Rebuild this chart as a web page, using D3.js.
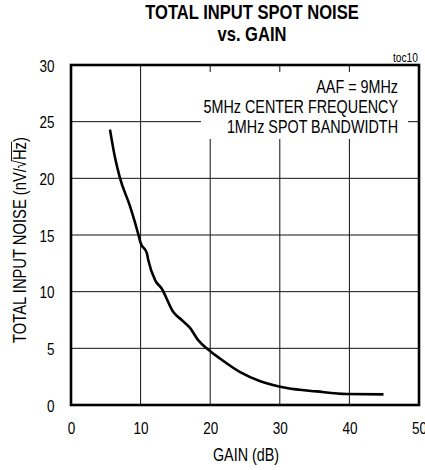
<!DOCTYPE html>
<html><head><meta charset="utf-8">
<script src="https://cdn.jsdelivr.net/npm/d3@7"></script>
<style>html,body{margin:0;padding:0;background:#fff;}svg{display:block;}</style>
</head><body>
<script>
// ---- data ----
const gain  = [5.6, 6.3, 7.0, 8.5, 9.7, 10.0, 10.9, 11.1, 12.1, 13.0, 14.7, 15.9, 17.1, 18.3, 19.7, 21.4, 24.3, 27.2, 31.0, 35.3, 39.6, 44.9];
const noise = [24.3, 21.9, 20.1, 17.5, 15.0, 14.3, 13.4, 12.8, 11.0, 10.3, 8.2, 7.5, 6.8, 5.7, 4.9, 4.1, 2.9, 2.1, 1.5, 1.2, 0.97, 0.94];
const xTicks = [0, 10, 20, 30, 40, 50];
const yTicks = [0, 5, 10, 15, 20, 25, 30];
const titleLines = ["TOTAL INPUT SPOT NOISE", "vs. GAIN"];
const legendLines = ["AAF = 9MHz", "5MHz CENTER FREQUENCY", "1MHz SPOT BANDWIDTH"];
const xLabel = "GAIN (dB)";
const yLabelMain = "TOTAL INPUT NOISE (nV/";
const yLabelRad = "\u221A";
const yLabelHz = "Hz";
const yLabelEnd = ")";
const tocLabel = "toc10";

const W = 425, H = 470;
const svg = d3.select("body").append("svg").attr("width", W).attr("height", H);

// font detection: narrow face available?
function measure(fam) {
  const t = svg.append("text").attr("font-family", fam).attr("font-size", 20).text("TOTAL INPUT SPOT NOISE");
  const w = t.node().getComputedTextLength(); t.remove(); return w;
}
const wNarrow = measure("'Liberation Sans Narrow', monospace");
const wMono = measure("monospace");
const hasNarrow = Math.abs(wNarrow - wMono) > 1;
const FAM = hasNarrow ? "'Liberation Sans Narrow', 'Arial Narrow', sans-serif" : "'Liberation Sans', Arial, sans-serif";
const SX = hasNarrow ? 1 : 0.82;

const x = d3.scaleLinear().domain([0, 50]).range([71, 419]);
const y = d3.scaleLinear().domain([0, 30]).range([405, 65]);

function label(px, py, str, size, anchor, weight, rot) {
  const g = svg.append("g").attr("transform", `translate(${px},${py})` + (rot ? ` rotate(${rot})` : "") + ` scale(${SX},1)`);
  const t = g.append("text").attr("font-family", FAM).attr("font-size", size)
    .attr("text-anchor", anchor).attr("font-weight", weight || "normal").attr("fill", "#000").text(str);
  return {g, t};
}

// grid
const gridX = xTicks.filter(d => d > 0 && d < 50);
const gridY = yTicks.filter(d => d > 0 && d < 30);
svg.append("g").selectAll("line").data(gridX).join("line")
  .attr("x1", d => x(d)).attr("x2", d => x(d)).attr("y1", y(30)).attr("y2", y(0))
  .attr("stroke", "#111").attr("stroke-width", 1);
svg.append("g").selectAll("line").data(gridY).join("line")
  .attr("x1", x(0)).attr("x2", x(50)).attr("y1", d => y(d)).attr("y2", d => y(d))
  .attr("stroke", "#111").attr("stroke-width", 1);

// legend box (white background behind annotation)
svg.append("rect").attr("x", 201).attr("y", 72).attr("width", 207).attr("height", 67).attr("fill", "#fff");
legendLines.forEach((s, i) => label(398, 92.5 + i * 20.2, s, 17.5, "end"));

// curve
const pts = gain.map((g, i) => [g, noise[i]]);
svg.append("path").datum(pts)
  .attr("d", d3.line().x(d => x(d[0])).y(d => y(d[1])).curve(d3.curveMonotoneX))
  .attr("fill", "none").attr("stroke", "#000").attr("stroke-width", 2.6)
  .attr("stroke-linejoin", "round").attr("stroke-linecap", "butt");

// frame
svg.append("rect").attr("x", x(0)).attr("y", y(30)).attr("width", x(50) - x(0)).attr("height", y(0) - y(30))
  .attr("fill", "none").attr("stroke", "#000").attr("stroke-width", 2.6);

// axes (labels only)
const xAxis = svg.append("g").attr("transform", `translate(0,${y(0)})`)
  .call(d3.axisBottom(x).tickValues(xTicks).tickSize(0).tickPadding(17).tickFormat(d3.format("d")));
xAxis.select(".domain").remove();
xAxis.selectAll("text").attr("font-family", FAM).attr("font-size", 16.5).attr("fill", "#000")
  .attr("transform", `scale(${SX},1)`);

const yPad = 16.5;
const yAxis = svg.append("g").attr("transform", `translate(${x(0)},0)`)
  .call(d3.axisLeft(y).tickValues(yTicks).tickSize(0).tickPadding(yPad).tickFormat(d3.format("d")));
yAxis.select(".domain").remove();
yAxis.selectAll("text").attr("font-family", FAM).attr("font-size", 16.5).attr("fill", "#000")
  .attr("x", -yPad / SX).attr("dy", "0.38em").attr("transform", `scale(${SX},1)`);

// title
titleLines.forEach((s, i) => label(252, 18.5 + i * 22, s, 20.2, "middle", "bold"));

// toc
label(418, 61.5, tocLabel, 12.5, "end");

// x label
label(246, 461, xLabel, 17.5, "middle");

// y label with radical overline
{
  const {g, t} = label(25.5, 240, "", 18, "middle", "normal", -90);
  t.text(null);
  t.append("tspan").text(yLabelMain);
  t.append("tspan").text(yLabelRad);
  t.append("tspan").text(yLabelHz);
  t.append("tspan").text(yLabelEnd);
  const node = t.node();
  const n0 = yLabelMain.length + yLabelRad.length;
  const s = node.getStartPositionOfChar(n0);
  const len = node.getSubStringLength(n0, yLabelHz.length);
  const radS = node.getStartPositionOfChar(n0 - 1);
  const radLen = node.getSubStringLength(n0 - 1, 1);
  g.append("line").attr("x1", radS.x + radLen * 0.85).attr("x2", s.x + len + 0.5)
    .attr("y1", -14).attr("y2", -14).attr("stroke", "#000").attr("stroke-width", 1);
}
</script>
</body></html>
